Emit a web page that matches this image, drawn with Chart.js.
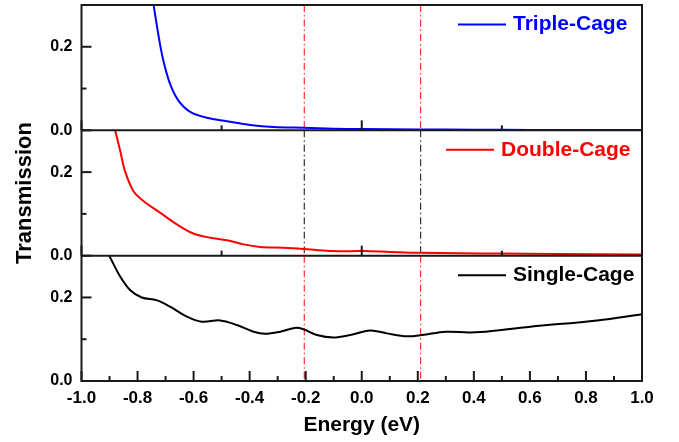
<!DOCTYPE html>
<html>
<head>
<meta charset="utf-8">
<script src="https://cdn.jsdelivr.net/npm/chart.js@4.4.1/dist/chart.umd.min.js"></script>
<style>
  html, body { margin: 0; padding: 0; background: #fff; }
</style>
</head>
<body>
<canvas id="transChart" width="679" height="442"></canvas>
<script>
// values
const tripleE = [-0.745, -0.726, -0.708, -0.684, -0.654, -0.612, -0.553, -0.481, -0.398, -0.315, -0.208, -0.1, 0.0, 0.2, 0.4, 0.6, 0.8, 1.0];
const tripleT = [0.31, 0.230, 0.167, 0.111, 0.071, 0.044, 0.030, 0.022, 0.013, 0.008, 0.006, 0.004, 0.003, 0.002, 0.0015, 0.001, 0.0008, 0.0005];

const doubleE = [-0.880, -0.862, -0.845, -0.815, -0.779, -0.720, -0.660, -0.601, -0.541, -0.481, -0.422, -0.363, -0.279, -0.208, -0.113, 0.006, 0.1, 0.209, 0.35, 0.483, 0.7, 1.0];
const doubleT = [0.300, 0.251, 0.203, 0.155, 0.131, 0.103, 0.075, 0.053, 0.043, 0.037, 0.027, 0.021, 0.019, 0.016, 0.011, 0.011, 0.009, 0.007, 0.006, 0.005, 0.004, 0.003];

const singleE = [-0.901, -0.862, -0.827, -0.785, -0.731, -0.684, -0.624, -0.571, -0.505, -0.446, -0.386, -0.345, -0.291, -0.24, -0.208, -0.160, -0.101, -0.041, 0.030, 0.09, 0.161, 0.215, 0.30, 0.38, 0.423, 0.602, 0.840, 1.0];
const singleT = [0.300, 0.250, 0.218, 0.200, 0.193, 0.178, 0.154, 0.142, 0.145, 0.134, 0.118, 0.113, 0.118, 0.127, 0.124, 0.110, 0.104, 0.110, 0.121, 0.114, 0.107, 0.110, 0.118, 0.116, 0.117, 0.130, 0.145, 0.160];

const markerE = [-0.205, 0.21];
const seriesNames = ["Triple-Cage", "Double-Cage", "Single-Cage"];
const seriesColors = ["#0000ff", "#ff0000", "#000000"];
const markerColors = ["#ff3030", "#333333", "#ff3030"];

const FONT = "'Liberation Sans', Arial, sans-serif";
Chart.defaults.font.family = FONT;
Chart.defaults.color = "#000";

function toPoints(xs, ys) {
  return xs.map((x, i) => ({ x: x, y: ys[i] }));
}

function yLabel(v) {
  if (Math.abs(v) < 1e-9) return "0.0";
  if (Math.abs(v - 0.2) < 1e-9) return "0.2";
  return "";
}

function panelAxis(title) {
  return {
    type: "linear",
    position: "left",
    stack: "panels",
    stackWeight: 1,
    min: 0,
    max: 0.3,
    ticks: {
      stepSize: 0.1,
      callback: yLabel,
      font: { size: 16, weight: "bold" },
      color: "#000",
      padding: 9
    },
    grid: { display: false, drawTicks: false },
    border: { display: false },
    title: title ? {
      display: true,
      text: title,
      font: { size: 22, weight: "bold" },
      color: "#000",
      padding: { top: 2, bottom: 0 }
    } : { display: false },
    afterFit: s => {
      s.width = 71.5;
      s.paddingTop = 0;
      s.paddingBottom = 0;
    }
  };
}

function line(ctx, x1, y1, x2, y2) {
  ctx.beginPath();
  ctx.moveTo(x1, y1);
  ctx.lineTo(x2, y2);
  ctx.stroke();
}

// dash-dot marker lines, drawn under the curves
const markerPlugin = {
  id: "markers",
  beforeDatasetsDraw(chart) {
    const ctx = chart.ctx;
    const x = chart.scales.x;
    const panels = [chart.scales.yTop, chart.scales.yMid, chart.scales.yBot];
    ctx.save();
    ctx.lineWidth = 1.2;
    ctx.setLineDash([7, 3, 1.5, 3]);
    panels.forEach((s, i) => {
      ctx.strokeStyle = markerColors[i];
      markerE.forEach(e => {
        const px = x.getPixelForValue(e);
        line(ctx, px, s.top, px, s.bottom);
      });
    });
    ctx.restore();
  }
};

// frame, inward ticks and the per-panel legends
const framePlugin = {
  id: "frame",
  afterDatasetsDraw(chart) {
    const ctx = chart.ctx;
    const { left, right, top, bottom } = chart.chartArea;
    const x = chart.scales.x;
    const panels = [chart.scales.yTop, chart.scales.yMid, chart.scales.yBot];
    ctx.save();
    ctx.strokeStyle = "#1a1a1a";
    ctx.lineWidth = 2;
    ctx.strokeRect(left, top, right - left, bottom - top);
    panels.forEach((s, i) => {
      // panel separator
      line(ctx, left, s.bottom, right, s.bottom);
      // left ticks
      [0, 0.1, 0.2].forEach((v, k) => {
        const py = s.getPixelForValue(v);
        line(ctx, left, py, left + (k === 1 ? 5 : 10), py);
      });
      // ticks on the panel bottoms
      if (i < 2) {
        [-1, -0.5, 0, 0.5, 1].forEach((e, k) => {
          const px = x.getPixelForValue(e);
          line(ctx, px, s.bottom, px, s.bottom - (k % 2 ? 5 : 10));
        });
      }
    });
    for (let k = -10; k <= 10; k++) {
      const px = x.getPixelForValue(k / 10);
      line(ctx, px, bottom, px, bottom - (k % 2 === 0 ? 10 : 5));
    }

    // legends
    const legendOffset = [184, 196, 184];
    ctx.font = "bold 21px " + FONT;
    ctx.textBaseline = "middle";
    ctx.textAlign = "left";
    panels.forEach((s, i) => {
      const y = s.top + 19.5;
      const x0 = right - legendOffset[i];
      ctx.strokeStyle = seriesColors[i];
      ctx.lineWidth = 2;
      line(ctx, x0, y, x0 + 48, y);
      ctx.fillStyle = seriesColors[i];
      ctx.fillText(seriesNames[i], x0 + 55, y);
    });
    ctx.restore();
  }
};

new Chart(document.getElementById("transChart").getContext("2d"), {
  type: "line",
  data: {
    datasets: [
      { label: seriesNames[0], data: toPoints(tripleE, tripleT), yAxisID: "yTop", borderColor: seriesColors[0] },
      { label: seriesNames[1], data: toPoints(doubleE, doubleT), yAxisID: "yMid", borderColor: seriesColors[1] },
      { label: seriesNames[2], data: toPoints(singleE, singleT), yAxisID: "yBot", borderColor: seriesColors[2] }
    ]
  },
  options: {
    responsive: false,
    animation: false,
    layout: { padding: { left: 10, right: 37, top: 5, bottom: 0 } },
    elements: {
      point: { radius: 0 },
      line: { borderWidth: 2, fill: false, tension: 0.35 }
    },
    plugins: { legend: { display: false }, tooltip: { enabled: false } },
    scales: {
      x: {
        type: "linear",
        min: -1,
        max: 1,
        ticks: {
          stepSize: 0.2,
          autoSkip: false,
          maxRotation: 0,
          callback: v => (Math.abs(v) < 1e-9 ? "0.0" : v.toFixed(1)),
          font: { size: 17, weight: "bold" },
          color: "#000",
          padding: 7
        },
        grid: { display: false, drawTicks: false },
        border: { display: false },
        title: {
          display: true,
          text: "Energy (eV)",
          font: { size: 21, weight: "bold" },
          color: "#000",
          padding: { top: 0, bottom: 4 }
        },
        afterFit: s => { s.height = 61; }
      },
      // stacked axes are placed bottom-up in the order they are listed
      yBot: panelAxis(null),
      yMid: panelAxis("Transmission"),
      yTop: panelAxis(null)
    }
  },
  plugins: [markerPlugin, framePlugin]
});
</script>
</body>
</html>
